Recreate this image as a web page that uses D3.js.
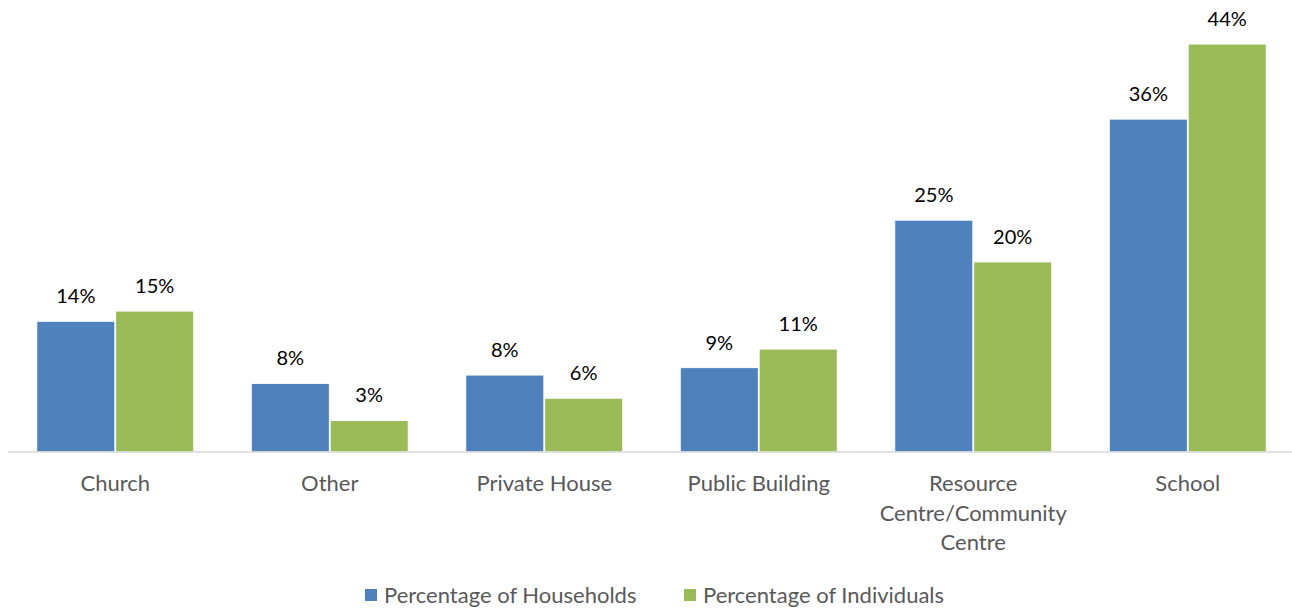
<!DOCTYPE html>
<html>
<head>
<meta charset="utf-8">
<script src="https://cdn.jsdelivr.net/npm/d3@7"></script>
<style>
  body { margin: 0; background: #fff; }
  svg { display: block; font-family: Lato, "Open Sans", sans-serif; }
</style>
</head>
<body>
<div id="chart"></div>
<script>
// Data
const CATEGORIES = ['Church', 'Other', 'Private House', 'Public Building', 'Resource Centre/Community Centre', 'School'];
const CATEGORY_LINES = [['Church'], ['Other'], ['Private House'], ['Public Building'], ['Resource', 'Centre/Community', 'Centre'], ['School']];
const SERIES = ['Percentage of Households', 'Percentage of Individuals'];
const HOUSEHOLDS = [14.1, 7.4, 8.3, 9.1, 25.0, 35.9];
const INDIVIDUALS = [15.2, 3.4, 5.8, 11.1, 20.5, 44.0];
const LABELS_H = ['14%', '8%', '8%', '9%', '25%', '36%'];
const LABELS_I = ['15%', '3%', '6%', '11%', '20%', '44%'];

const COLORS = ['#4F81BD', '#9BBB59'];
const WIDTH = 1292, HEIGHT = 608;
const PLOT = { left: 8, right: 1295, top: 44, bottom: 452 };

const svg = d3.select('#chart').append('svg')
    .attr('width', WIDTH)
    .attr('height', HEIGHT);

const x = d3.scaleBand()
    .domain(CATEGORIES)
    .range([PLOT.left, PLOT.right])
    .paddingInner(0.268)
    .paddingOuter(0.134);

const xSub = d3.scaleBand()
    .domain(SERIES)
    .range([0, x.bandwidth()])
    .paddingInner(0.01);

const y = d3.scaleLinear()
    .domain([0, 44])
    .range([PLOT.bottom, PLOT.top]);

const rows = CATEGORIES.map((c, i) => ({
    category: c,
    values: [
        { series: SERIES[0], value: HOUSEHOLDS[i], label: LABELS_H[i], color: COLORS[0] },
        { series: SERIES[1], value: INDIVIDUALS[i], label: LABELS_I[i], color: COLORS[1] }
    ]
}));

const groups = svg.append('g').selectAll('g')
    .data(rows)
    .join('g')
    .attr('transform', d => `translate(${x(d.category)},0)`);

groups.selectAll('rect')
    .data(d => d.values)
    .join('rect')
    .attr('x', d => xSub(d.series))
    .attr('y', d => y(d.value))
    .attr('width', xSub.bandwidth())
    .attr('height', d => y(0) - y(d.value))
    .attr('fill', d => d.color)
    .attr('stroke', '#fff')
    .attr('stroke-width', 1);

groups.selectAll('text.value')
    .data(d => d.values)
    .join('text')
    .attr('class', 'value')
    .attr('x', d => xSub(d.series) + xSub.bandwidth() / 2)
    .attr('y', d => y(d.value) - 18)
    .attr('text-anchor', 'middle')
    .style('font-size', '20px')
    .style('fill', '#000')
    .text(d => d.label);

// Baseline axis
const xAxis = svg.append('g')
    .attr('transform', `translate(0,${PLOT.bottom})`)
    .call(d3.axisBottom(x).tickSize(0).tickFormat(''));
xAxis.select('.domain').attr('stroke', '#d9d9d9').attr('stroke-width', 1.5)
    .attr('d', `M${PLOT.left},0H${WIDTH}`);

// Category labels (wrapped)
svg.append('g').selectAll('text')
    .data(CATEGORIES)
    .join('text')
    .attr('x', d => x(d) + x.bandwidth() / 2)
    .attr('y', 491)
    .attr('text-anchor', 'middle')
    .style('font-size', '22px')
    .style('fill', '#595959')
    .selectAll('tspan')
    .data((d, i) => CATEGORY_LINES[i])
    .join('tspan')
    .attr('x', function () { return this.parentNode.getAttribute('x'); })
    .attr('dy', (d, i) => i === 0 ? 0 : 29.5)
    .text(d => d);

// Legend
const legend = svg.append('g').attr('transform', 'translate(365,595)');
const LEGEND_X = [0, 319];
const items = legend.selectAll('g')
    .data(SERIES)
    .join('g')
    .attr('transform', (d, i) => `translate(${LEGEND_X[i]},0)`);
items.append('rect')
    .attr('x', 0).attr('y', -6)
    .attr('width', 12).attr('height', 12)
    .attr('fill', (d, i) => COLORS[i]);
items.append('text')
    .attr('x', 19).attr('y', 8)
    .style('font-size', '22px')
    .style('fill', '#595959')
    .text(d => d);
</script>
</body>
</html>
